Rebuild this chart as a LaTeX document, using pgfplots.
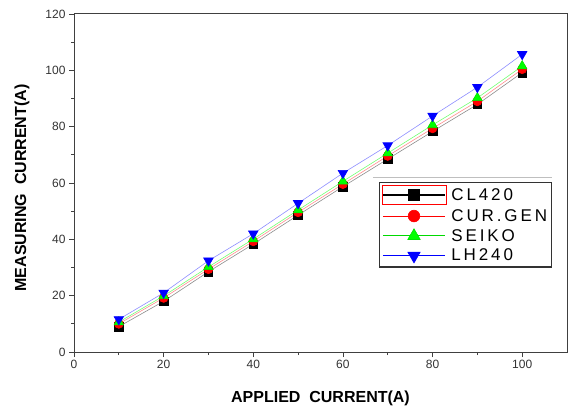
\documentclass[border=0pt]{standalone}
\usepackage{pgfplots}
\pgfplotsset{compat=1.18}
\usepackage{fontspec}
\setmainfont{Liberation Sans}

% measured vs applied current, 4 meters
\pgfplotstableread{
x  cl   cur   seiko  lh
10 9.0  10.0  10.6   11.6
20 18.0 19.2  19.9   21.0
30 28.5 29.4  30.2   32.4
40 38.3 39.3  40.1   42.0
50 48.6 49.6  50.4   52.8
60 58.7 59.6  60.6   63.5
70 68.5 69.6  70.6   73.3
80 78.3 79.4  80.6   83.8
90 87.9 89.0  90.2   94.0
100 99.2 100.4 101.5 105.7
}\datatable

\newcommand\lf{\hspace{3bp}\fontsize{17bp}{19bp}\selectfont\addfontfeatures{LetterSpace=17}}

\begin{document}
\begin{tikzpicture}[x=1bp,y=1bp]
\pgfplotsset{
  base/.style={
    scale only axis, width=493bp, height=338bp,
    xmin=0, xmax=110, ymin=0, ymax=120,
    xtick={0,20,...,100}, ytick={0,20,...,120},
    minor x tick num=1, minor y tick num=1,
    major tick length=5bp, minor tick length=3bp,
    axis line style={line width=1pt, black!75},
    every tick/.style={black!75, line width=0.8pt},
  },
}
\begin{axis}[base, name=ax,
  xtick pos=bottom, ytick pos=left, tick align=outside,
  /pgf/number format/assume math mode=true,
  tick label style={font=\fontsize{12bp}{14bp}\selectfont, text=black!80},
  xlabel={\textbf{APPLIED\ \ CURRENT(A)}},
  ylabel={\textbf{MEASURING\ \ CURRENT(A)}},
  label style={font=\fontsize{16bp}{18bp}\selectfont},
  xlabel style={at={(axis description cs:0.5,0)}, anchor=center, yshift=-46bp},
  ylabel style={at={(axis description cs:0,0.5)}, anchor=center, yshift=52bp, xshift=-5bp},
  legend style={at={(0.97,0.503)}, anchor=north east,
    draw=black!80, line width=1.2pt,
    row sep=2.5bp, inner sep=2.5bp},
  legend cell align=left,
]
\addplot[color=black!45, line width=0.6pt, mark=square*, mark size=4.3bp,
  mark options={black, fill=black},
  legend image code/.code={
    \draw[red, line width=0.8pt] (-1bp,-9.5bp) rectangle (63bp,9.5bp);
    \draw[black, line width=1.1pt, mark=none] (0bp,0bp) -- (62bp,0bp);
    \draw[only marks, every mark/.append style={scale=1.3}] plot coordinates {(31bp,0bp)};}]
  table[x=x, y=cl] {\datatable};
\addlegendentry{\lf CL420}
\addplot[color=red!45, line width=0.6pt, mark=*, mark size=4.5bp,
  mark options={red, fill=red},
  legend image code/.code={
    \draw[red, line width=1.1pt, mark=none] (0bp,0bp) -- (62bp,0bp);
    \draw[only marks, every mark/.append style={scale=1.3}] plot coordinates {(31bp,0bp)};}]
  table[x=x, y=cur] {\datatable};
\addlegendentry{\lf CUR.GEN}
\addplot[color=green!55, line width=0.6pt, mark=triangle*, mark size=5.5bp,
  mark options={green!90!black, fill=green},
  legend image code/.code={
    \draw[green!85!black, line width=1.1pt, mark=none] (0bp,0bp) -- (62bp,0bp);
    \draw[only marks, every mark/.append style={scale=1.3}] plot coordinates {(31bp,0bp)};}]
  table[x=x, y=seiko] {\datatable};
\addlegendentry{\lf SEIKO}
\addplot[color=blue!45, line width=0.6pt, mark=triangle*, mark size=5.5bp,
  mark options={blue, fill=blue, rotate=180},
  legend image code/.code={
    \draw[blue, line width=1.1pt, mark=none] (0bp,0bp) -- (62bp,0bp);
    \draw[only marks, every mark/.append style={scale=1.3}] plot coordinates {(31bp,0bp)};}]
  table[x=x, y=lh] {\datatable};
\addlegendentry{\lf LH240}
% faint line above the legend, as in the source image
\draw[black!25, line width=0.8pt] (rel axis cs:0.606,0.518) -- (rel axis cs:0.97,0.518);
\end{axis}
% right axis: inward ticks only
\begin{axis}[base, at={(ax.south west)}, anchor=south west,
  axis lines=none, xtick=\empty, ytick pos=right, tick align=inside,
  yticklabels={}, axis line style={draw=none}]
\addplot[draw=none] coordinates {(0,0)};
\draw[black!75, line width=1pt] (rel axis cs:1,0) -- (rel axis cs:1,1);
\end{axis}
\pgfresetboundingbox
\path ([shift={(-74bp,-60bp)}]ax.south west) rectangle ([shift={(4bp,14bp)}]ax.north east);
\end{tikzpicture}
\end{document}
